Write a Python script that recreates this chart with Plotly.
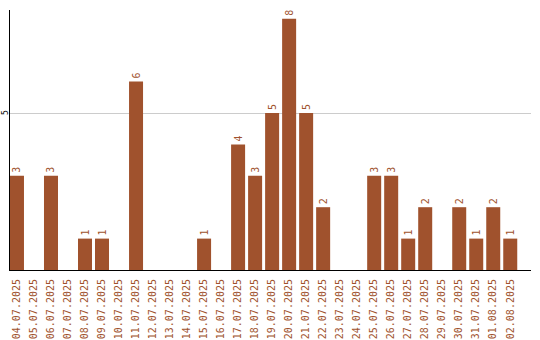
import plotly.graph_objects as go

dates = ["04.07.2025", "05.07.2025", "06.07.2025", "07.07.2025", "08.07.2025",
         "09.07.2025", "10.07.2025", "11.07.2025", "12.07.2025", "13.07.2025",
         "14.07.2025", "15.07.2025", "16.07.2025", "17.07.2025", "18.07.2025",
         "19.07.2025", "20.07.2025", "21.07.2025", "22.07.2025", "23.07.2025",
         "24.07.2025", "25.07.2025", "26.07.2025", "27.07.2025", "28.07.2025",
         "29.07.2025", "30.07.2025", "31.07.2025", "01.08.2025", "02.08.2025"]
values = [3, 0, 3, 0, 1, 1, 0, 6, 0, 0,
          0, 1, 0, 4, 3, 5, 8, 5, 2, 0,
          0, 3, 3, 1, 2, 0, 2, 1, 2, 1]
y_ticks = [5]

color = "#A0522D"
mono = "DejaVu Sans Mono"

fig = go.Figure(go.Bar(
    x=dates, y=values,
    marker=dict(color=color, line=dict(width=0)),
    text=[str(v) if v else "" for v in values],
    textposition="outside", textangle=-90,
    textfont=dict(family=mono, size=10, color=color),
    cliponaxis=False,
))

for t in y_ticks:
    fig.add_annotation(
        xref="paper", x=0, xanchor="center", xshift=-5,
        yref="y", y=t, yanchor="middle",
        text=str(t), textangle=-90, showarrow=False,
        font=dict(family=mono, size=8, color="black"),
    )

fig.update_layout(
    width=540, height=340,
    margin=dict(l=10, r=9, t=10, b=70),
    paper_bgcolor="white", plot_bgcolor="white",
    bargap=3/17,
    showlegend=False,
    xaxis=dict(
        type="category", range=[-0.41, 30.22], automargin=False,
        tickangle=-90, tickfont=dict(family=mono, size=10, color=color),
        showline=True, linecolor="black", linewidth=1,
        showgrid=False, ticks="", ticklabelstandoff=4,
    ),
    yaxis=dict(
        range=[0, 8.28], tickvals=y_ticks, showticklabels=False, automargin=False,
        showline=True, linecolor="black", linewidth=1,
        showgrid=True, gridcolor="#cccccc", gridwidth=1,
        zeroline=False, ticks="",
    ),
)

fig.write_html("out.html")
